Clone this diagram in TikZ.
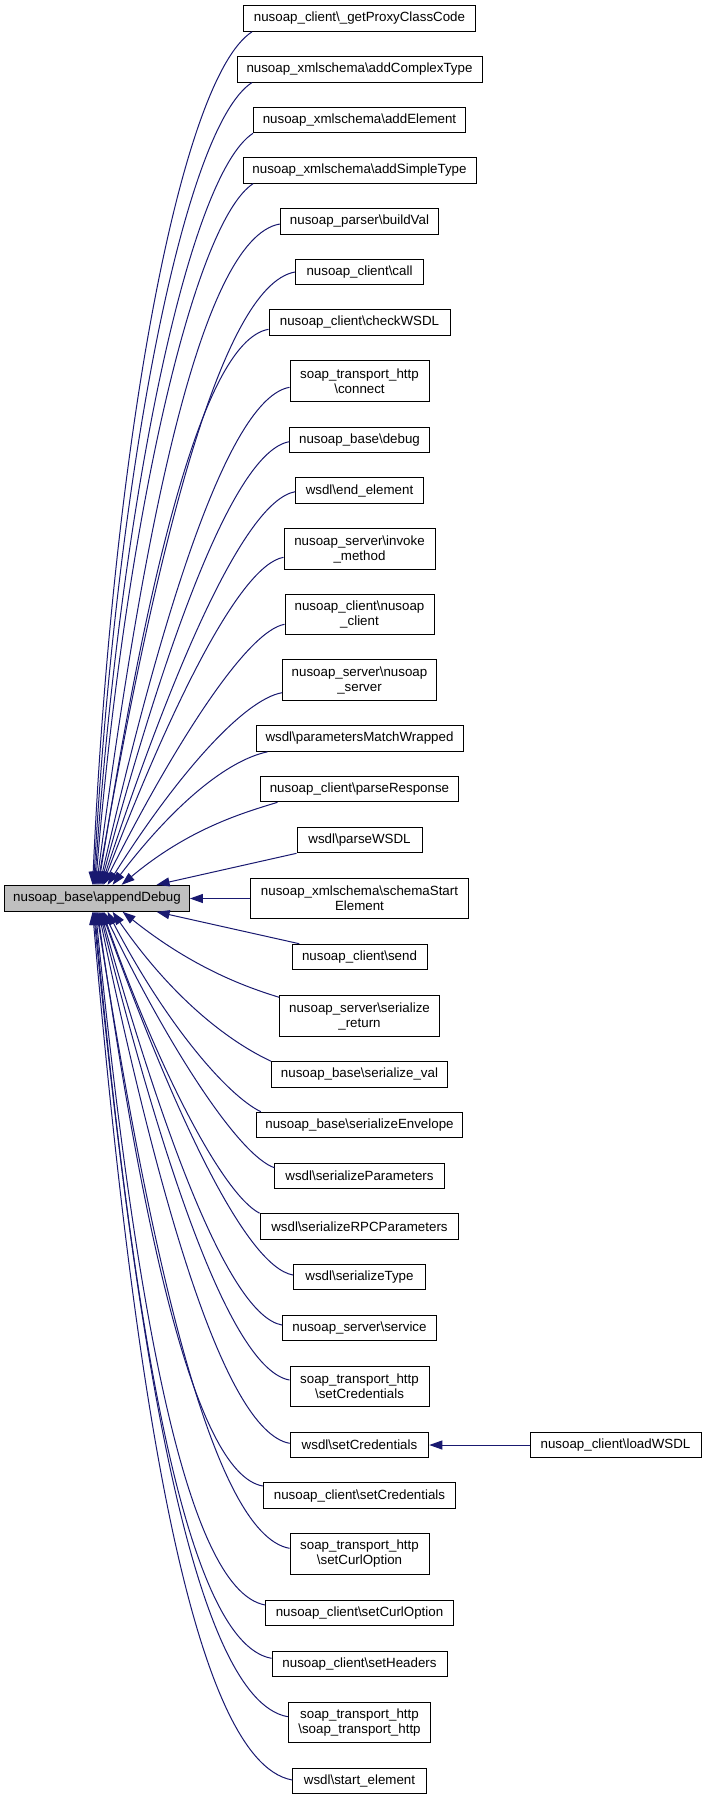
\documentclass[tikz,border=0pt]{standalone}
\usepackage{fontspec}
\setmainfont{Liberation Sans}
\usetikzlibrary{calc,arrows.meta}
\definecolor{edgeblue}{HTML}{191970}
\definecolor{boxgray}{HTML}{BFBFBF}
\newcommand\dedge[5]{%
 \draw[edge] let \p1=(#1), \p2=(#2), \n1={veclen(\x1-\x2,\y1-\y2)}, \n2={atan2(\y1-\y2,\x1-\x2)}, \n3={(\y1-\y2)/abs(\y1-\y2)} in
 (\p1) .. controls ($(\p1)+({-1*#4*\n1*cos(#3)*1pt},{-1*(\n3)*#4*\n1*sin(#3)*1pt})$) and ($(\p2)+({0.5*\n1*cos(\n2+(\n3)*#5)*1pt},{0.5*\n1*sin(\n2+(\n3)*#5)*1pt})$) .. (\p2);}
\begin{document}
\begin{tikzpicture}[x=1pt,y=-1pt,
  box/.style={draw=black, line width=1pt, fill=white, inner sep=0pt, align=center, font=\fontsize{13.33}{15}\selectfont, minimum height=25.6pt},
  boxtwo/.style={box, minimum height=40.3pt},
  edge/.style={draw=edgeblue, line width=1pt, -{Triangle[length=13pt,width=9pt]}}]
\useasboundingbox (0,0) rectangle (703,1800);
\fill[white] (0,0) rectangle (703,1800);
% nodes
\node[box, minimum width=184.8pt, minimum height=26pt, fill=boxgray] (ad) at (97,898.3) {nusoap\_base\textbackslash appendDebug};
\node[box, minimum width=232pt] (n1) at (359.5,18.5) {nusoap\_client\textbackslash\_getProxyClassCode};
\node[box, minimum width=245pt] (n2) at (359.5,69.3) {nusoap\_xmlschema\textbackslash addComplexType};
\node[box, minimum width=212pt] (n3) at (359.5,120) {nusoap\_xmlschema\textbackslash addElement};
\node[box, minimum width=233pt] (n4) at (359.5,170.3) {nusoap\_xmlschema\textbackslash addSimpleType};
\node[box, minimum width=158.5pt] (n5) at (359.5,221.3) {nusoap\_parser\textbackslash buildVal};
\node[box, minimum width=128pt] (n6) at (359.5,272) {nusoap\_client\textbackslash call};
\node[box, minimum width=181pt] (n7) at (359.5,322.5) {nusoap\_client\textbackslash checkWSDL};
\node[boxtwo, minimum width=139pt] (n8) at (359.5,381) {soap\_transport\_http\\\textbackslash connect};
\node[box, minimum width=139.5pt] (n9) at (359.5,440) {nusoap\_base\textbackslash debug};
\node[box, minimum width=127.6pt] (n10) at (359.5,490.5) {wsdl\textbackslash end\_element};
\node[boxtwo, minimum width=151pt] (n11) at (359.5,549) {nusoap\_server\textbackslash invoke\\\_method};
\node[boxtwo, minimum width=149pt] (n12) at (359.5,614.3) {nusoap\_client\textbackslash nusoap\\\_client};
\node[boxtwo, minimum width=154pt] (n13) at (359.5,680) {nusoap\_server\textbackslash nusoap\\\_server};
\node[box, minimum width=207pt] (n14) at (359.5,738.5) {wsdl\textbackslash parametersMatchWrapped};
\node[box, minimum width=198pt] (n15) at (359.5,789) {nusoap\_client\textbackslash parseResponse};
\node[box, minimum width=125pt] (n16) at (359.5,840) {wsdl\textbackslash parseWSDL};
\node[boxtwo, minimum width=218pt] (n17) at (359.5,898.5) {nusoap\_xmlschema\textbackslash schemaStart\\Element};
\node[box, minimum width=135pt] (n18) at (359.5,957) {nusoap\_client\textbackslash send};
\node[boxtwo, minimum width=159.5pt] (n19) at (359.5,1016) {nusoap\_server\textbackslash serialize\\\_return};
\node[box, minimum width=176pt] (n20) at (359.5,1074.5) {nusoap\_base\textbackslash serialize\_val};
\node[box, minimum width=206.4pt] (n21) at (359.5,1125) {nusoap\_base\textbackslash serializeEnvelope};
\node[box, minimum width=169.3pt] (n22) at (359.5,1176) {wsdl\textbackslash serializeParameters};
\node[box, minimum width=198.8pt] (n23) at (359.5,1226.5) {wsdl\textbackslash serializeRPCParameters};
\node[box, minimum width=132pt] (n24) at (359.5,1277) {wsdl\textbackslash serializeType};
\node[box, minimum width=154pt] (n25) at (359.5,1328) {nusoap\_server\textbackslash service};
\node[boxtwo, minimum width=139pt] (n26) at (359.5,1386.5) {soap\_transport\_http\\\textbackslash setCredentials};
\node[box, minimum width=138.6pt] (n27) at (359.5,1445) {wsdl\textbackslash setCredentials};
\node[box, minimum width=192.4pt] (n28) at (359.5,1495.7) {nusoap\_client\textbackslash setCredentials};
\node[boxtwo, minimum width=139pt] (n29) at (359.5,1554) {soap\_transport\_http\\\textbackslash setCurlOption};
\node[box, minimum width=187.4pt] (n30) at (359.5,1613) {nusoap\_client\textbackslash setCurlOption};
\node[box, minimum width=175pt] (n31) at (359.5,1664) {nusoap\_client\textbackslash setHeaders};
\node[boxtwo, minimum width=142.4pt] (n32) at (359.5,1722.5) {soap\_transport\_http\\\textbackslash soap\_transport\_http};
\node[box, minimum width=133.3pt] (n33) at (359.5,1781) {wsdl\textbackslash start\_element};
\node[box, minimum width=171pt] (lw) at (615.5,1445) {nusoap\_client\textbackslash loadWSDL};
% source points
\coordinate (s1) at ($(n1.south west)+(9,0)$);
\coordinate (s2) at ($(n2.south west)+(15.4,0)$);
\coordinate (s3) at (n3.south west);
\coordinate (s4) at ($(n4.south west)+(10.7,0)$);
\coordinate (s5) at ($(n5.west)+(0,2.7)$);
\coordinate (s6) at (n6.west);
\coordinate (s7) at ($(n7.west)+(0,6.8)$);
\coordinate (s8) at ($(n8.west)+(0,6.3)$);
\coordinate (s9) at ($(n9.west)+(0,1.7)$);
\coordinate (s10) at ($(n10.west)+(0,1.2)$);
\coordinate (s11) at ($(n11.west)+(0,8.3)$);
\coordinate (s12) at ($(n12.west)+(0,10)$);
\coordinate (s13) at ($(n13.west)+(0,12.7)$);
\coordinate (s14) at ($(n14.south west)+(12,0)$);
\coordinate (s15) at ($(n15.south west)+(17.5,0)$);
\coordinate (s16) at (n16.south west);
\coordinate (s18) at ($(n18.north west)+(7.7,0)$);
\coordinate (s19) at ($(n19.west)+(0,-18.7)$);
\coordinate (s20) at (n20.north west);
\coordinate (s21) at ($(n21.north west)+(5,0)$);
\coordinate (s22) at ($(n22.west)+(0,-8.3)$);
\coordinate (s23) at (n23.north west);
\coordinate (s24) at ($(n24.west)+(0,-2)$);
\coordinate (s25) at ($(n25.west)+(0,-3)$);
\coordinate (s26) at ($(n26.west)+(0,-6.5)$);
\coordinate (s27) at ($(n27.west)+(0,-1.7)$);
\coordinate (s28) at ($(n28.west)+(0,-9.7)$);
\coordinate (s29) at ($(n29.west)+(0,-5.7)$);
\coordinate (s30) at ($(n30.west)+(0,-8)$);
\coordinate (s31) at ($(n31.west)+(0,-5.7)$);
\coordinate (s32) at ($(n32.west)+(0,-5.8)$);
\coordinate (s33) at ($(n33.west)+(0,-1)$);
% target points on appendDebug
\coordinate (t1) at ($(ad.north west)+(88.5,0)$);
\coordinate (t2) at ($(ad.north west)+(89.5,0)$);
\coordinate (t3) at ($(ad.north west)+(90.5,0)$);
\coordinate (t4) at ($(ad.north west)+(91.5,0)$);
\coordinate (t5) at ($(ad.north west)+(92.5,0)$);
\coordinate (t6) at ($(ad.north west)+(93.5,0)$);
\coordinate (t7) at ($(ad.north west)+(94.5,0)$);
\coordinate (t8) at ($(ad.north west)+(95.5,0)$);
\coordinate (t9) at ($(ad.north west)+(96.5,0)$);
\coordinate (t10) at ($(ad.north west)+(97.5,0)$);
\coordinate (t11) at ($(ad.north west)+(98.5,0)$);
\coordinate (t12) at ($(ad.north west)+(99.5,0)$);
\coordinate (t13) at ($(ad.north west)+(103.5,0)$);
\coordinate (t14) at ($(ad.north west)+(108.5,0)$);
\coordinate (t15) at ($(ad.north west)+(117.5,0)$);
\coordinate (t16) at ($(ad.north west)+(152.5,0)$);
\coordinate (t18) at ($(ad.south west)+(152.5,0)$);
\coordinate (t19) at ($(ad.south west)+(118.5,0)$);
\coordinate (t20) at ($(ad.south west)+(108.5,0)$);
\coordinate (t21) at ($(ad.south west)+(103.5,0)$);
\coordinate (t22) at ($(ad.south west)+(99.5,0)$);
\coordinate (t23) at ($(ad.south west)+(98.5,0)$);
\coordinate (t24) at ($(ad.south west)+(97.5,0)$);
\coordinate (t25) at ($(ad.south west)+(96.5,0)$);
\coordinate (t26) at ($(ad.south west)+(95.5,0)$);
\coordinate (t27) at ($(ad.south west)+(94.5,0)$);
\coordinate (t28) at ($(ad.south west)+(93.5,0)$);
\coordinate (t29) at ($(ad.south west)+(92.5,0)$);
\coordinate (t30) at ($(ad.south west)+(91.5,0)$);
\coordinate (t31) at ($(ad.south west)+(90.5,0)$);
\coordinate (t32) at ($(ad.south west)+(89.5,0)$);
\coordinate (t33) at ($(ad.south west)+(88.5,0)$);
% edges
\dedge{s1}{t1}{33}{0.1}{8}
\dedge{s2}{t2}{33}{0.1}{8}
\dedge{s3}{t3}{33}{0.1}{8}
\dedge{s4}{t4}{33}{0.1}{8}
\dedge{s5}{t5}{10}{0.12}{8}
\dedge{s6}{t6}{10}{0.12}{8}
\dedge{s7}{t7}{10}{0.12}{8}
\dedge{s8}{t8}{10}{0.12}{8}
\dedge{s9}{t9}{10}{0.12}{8}
\dedge{s10}{t10}{10}{0.12}{8}
\dedge{s11}{t11}{10}{0.12}{8}
\dedge{s12}{t12}{10}{0.12}{8}
\dedge{s13}{t13}{10}{0.15}{10}
\dedge{s14}{t14}{12}{0.2}{12}
\dedge{s15}{t15}{17}{0.2}{12}
\draw[edge] (s16) -- (t16);
\draw[edge] (n17.west) -- (n17.west -| ad.east);
\draw[edge] (s18) -- (t18);
\dedge{s19}{t19}{17}{0.2}{10}
\dedge{s20}{t20}{25}{0.2}{12}
\dedge{s21}{t21}{26}{0.15}{10}
\dedge{s22}{t22}{19}{0.12}{8}
\dedge{s23}{t23}{27}{0.12}{8}
\dedge{s24}{t24}{10}{0.12}{8}
\dedge{s25}{t25}{10}{0.12}{8}
\dedge{s26}{t26}{10}{0.12}{8}
\dedge{s27}{t27}{10}{0.12}{8}
\dedge{s28}{t28}{10}{0.12}{8}
\dedge{s29}{t29}{10}{0.12}{8}
\dedge{s30}{t30}{10}{0.12}{8}
\dedge{s31}{t31}{10}{0.12}{8}
\dedge{s32}{t32}{10}{0.12}{8}
\dedge{s33}{t33}{10}{0.12}{8}
\draw[edge] (lw.west) -- (n27.east);
\end{tikzpicture}
\end{document}
